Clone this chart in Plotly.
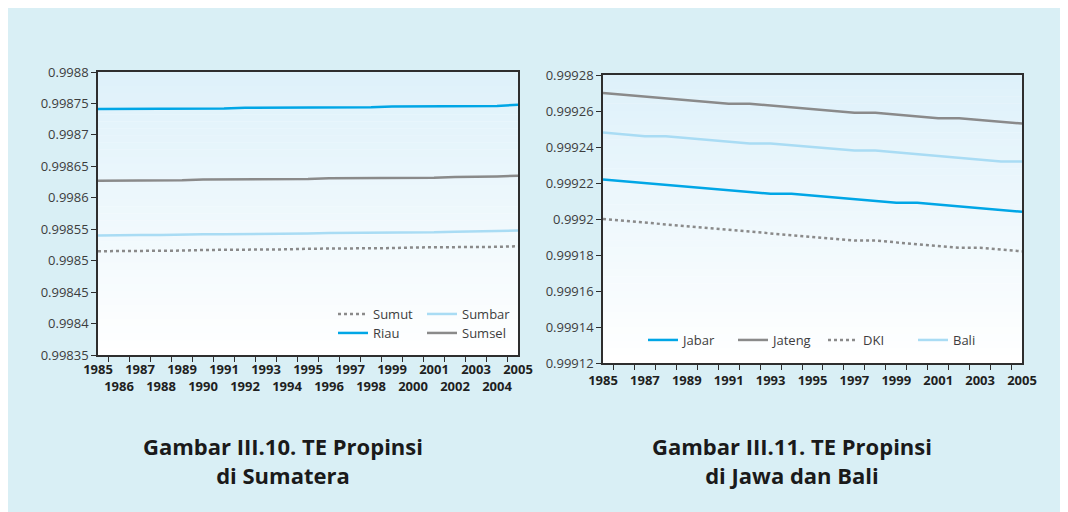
import plotly.graph_objects as go

years = [str(y) for y in range(1985, 2006)]

# Sumatera (left chart)
sumut = [0.998515, 0.998515, 0.998516, 0.998516, 0.998516, 0.998517, 0.998517, 0.998517, 0.998518, 0.998518,
         0.998519, 0.998519, 0.998519, 0.998520, 0.998520, 0.998521, 0.998521, 0.998521, 0.998522, 0.998522, 0.998523]
sumbar = [0.998540, 0.998541, 0.998541, 0.998541, 0.998542, 0.998542, 0.998542, 0.998542, 0.998543, 0.998543,
          0.998543, 0.998544, 0.998544, 0.998544, 0.998545, 0.998545, 0.998545, 0.998546, 0.998546, 0.998547, 0.998548]
riau = [0.998741, 0.998741, 0.998741, 0.998742, 0.998742, 0.998742, 0.998742, 0.998743, 0.998743, 0.998743,
        0.998743, 0.998744, 0.998744, 0.998744, 0.998745, 0.998745, 0.998745, 0.998746, 0.998746, 0.998746, 0.998748]
sumsel = [0.998627, 0.998627, 0.998628, 0.998628, 0.998628, 0.998629, 0.998629, 0.998629, 0.998630, 0.998630,
          0.998630, 0.998631, 0.998631, 0.998631, 0.998632, 0.998632, 0.998632, 0.998633, 0.998633, 0.998634, 0.998635]

# Jawa dan Bali (right chart)
jabar = [0.999222, 0.999221, 0.999220, 0.999219, 0.999218, 0.999217, 0.999216, 0.999215, 0.999214, 0.999214,
         0.999213, 0.999212, 0.999211, 0.999210, 0.999209, 0.999209, 0.999208, 0.999207, 0.999206, 0.999205, 0.999204]
jateng = [0.999270, 0.999269, 0.999268, 0.999267, 0.999266, 0.999265, 0.999264, 0.999264, 0.999263, 0.999262,
          0.999261, 0.999260, 0.999259, 0.999259, 0.999258, 0.999257, 0.999256, 0.999256, 0.999255, 0.999254, 0.999253]
dki = [0.999200, 0.999199, 0.999198, 0.999197, 0.999196, 0.999195, 0.999194, 0.999193, 0.999192, 0.999191,
       0.999190, 0.999189, 0.999188, 0.999188, 0.999187, 0.999186, 0.999185, 0.999184, 0.999184, 0.999183, 0.999182]
bali = [0.999248, 0.999247, 0.999246, 0.999246, 0.999245, 0.999244, 0.999243, 0.999242, 0.999242, 0.999241,
        0.999240, 0.999239, 0.999238, 0.999238, 0.999237, 0.999236, 0.999235, 0.999234, 0.999233, 0.999232, 0.999232]

left_yticks = [0.99835, 0.9984, 0.99845, 0.9985, 0.99855, 0.9986, 0.99865, 0.9987, 0.99875, 0.9988]
left_ylabels = ["0.99835", "0.9984", "0.99845", "0.9985", "0.99855", "0.9986", "0.99865", "0.9987", "0.99875", "0.9988"]
right_yticks = [0.99912, 0.99914, 0.99916, 0.99918, 0.9992, 0.99922, 0.99924, 0.99926, 0.99928]
right_ylabels = ["0.99912", "0.99914", "0.99916", "0.99918", "0.9992", "0.99922", "0.99924", "0.99926", "0.99928"]

left_xlabels = [y if i % 2 == 0 else "<br>" + y for i, y in enumerate(years)]
right_xlabels = [y if i % 2 == 0 else "" for i, y in enumerate(years)]

title_left = "Gambar III.10. TE Propinsi<br>di Sumatera"
title_right = "Gambar III.11. TE Propinsi<br>di Jawa dan Bali"

BLUE = "#00a6e6"
GRAY = "#8a8a8a"
LBLUE = "#a9dcf4"
PANEL = "#d9eff5"

# the page body adds an 8px offset; the figure fills the rest of the window
OFF = 8
W, H = 1055, 504

fig = go.Figure()

def add(x, y, name, color, dash, xa, ya, legend):
    fig.add_trace(go.Scatter(x=x, y=y, name=name, mode="lines",
                             line=dict(color=color, width=2.5, dash=dash),
                             xaxis=xa, yaxis=ya, legend=legend))

add(years, sumut, "Sumut", GRAY, "dot", "x", "y", "legend")
add(years, sumbar, "Sumbar", LBLUE, "solid", "x", "y", "legend")
add(years, riau, "Riau", BLUE, "solid", "x", "y", "legend2")
add(years, sumsel, "Sumsel", GRAY, "solid", "x", "y", "legend2")

add(years, jabar, "Jabar", BLUE, "solid", "x2", "y2", "legend3")
add(years, jateng, "Jateng", GRAY, "solid", "x2", "y2", "legend3")
add(years, dki, "DKI", GRAY, "dot", "x2", "y2", "legend3")
add(years, bali, "Bali", LBLUE, "solid", "x2", "y2", "legend3")

def px_x(p):
    return (p - OFF) / W

def px_y(p):
    return (H - (p - OFF)) / H

axis_common = dict(showline=True, linecolor="#2e2e2e", linewidth=1.5, mirror=True,
                   ticks="outside", ticklen=5, tickcolor="#2e2e2e", tickwidth=1.2,
                   showgrid=False, zeroline=False, automargin=False)

xfont = dict(family="Open Sans", size=13, color="#1f1f1f", weight="bold")
yfont = dict(family="Open Sans", size=13, color="#3d3d3d")
lfont = dict(family="Open Sans", size=13, color="#3d3d3d")

fig.update_layout(
    width=W, height=H,
    margin=dict(l=0, r=0, t=0, b=0, autoexpand=False),
    paper_bgcolor=PANEL,
    plot_bgcolor="white",
    xaxis=dict(domain=[px_x(98), px_x(518)], anchor="y", type="category",
               tickson="boundaries", tickmode="array", tickvals=years, ticktext=left_xlabels,
               tickfont=xfont, tickangle=0, ticklabelstandoff=2, **axis_common),
    yaxis=dict(domain=[px_y(355), px_y(72)], anchor="x", range=[0.99835, 0.9988],
               tickmode="array", tickvals=left_yticks, ticktext=left_ylabels,
               tickfont=yfont, **axis_common),
    xaxis2=dict(domain=[px_x(603), px_x(1022)], anchor="y2", type="category",
                tickson="boundaries", tickmode="array", tickvals=years, ticktext=right_xlabels,
                tickfont=xfont, tickangle=0, ticklabelstandoff=5, **axis_common),
    yaxis2=dict(domain=[px_y(363), px_y(75)], anchor="x2", range=[0.99912, 0.99928],
                tickmode="array", tickvals=right_yticks, ticktext=right_ylabels,
                tickfont=yfont, **axis_common),
    legend=dict(orientation="h", x=px_x(333), y=px_y(314), xanchor="left", yanchor="middle",
                bgcolor="rgba(0,0,0,0)", font=lfont,
                entrywidth=44, entrywidthmode="pixels", traceorder="normal"),
    legend2=dict(orientation="h", x=px_x(333), y=px_y(333), xanchor="left", yanchor="middle",
                 bgcolor="rgba(0,0,0,0)", font=lfont,
                 entrywidth=44, entrywidthmode="pixels", traceorder="normal"),
    legend3=dict(orientation="h", x=px_x(643), y=px_y(340), xanchor="left", yanchor="middle",
                 bgcolor="rgba(0,0,0,0)", font=lfont,
                 entrywidth=45, entrywidthmode="pixels", traceorder="normal"),
)

shapes = []
# gradient plot backgrounds
top = (222, 241, 250)
n = 40
for xr, yr in (("x domain", "y domain"), ("x2 domain", "y2 domain")):
    for i in range(n):
        t = i / (n - 1)
        c = tuple(int(round(top[k] + (255 - top[k]) * t)) for k in range(3))
        shapes.append(dict(type="rect", xref=xr, yref=yr, x0=0, x1=1,
                           y0=1 - (i + 1) / n, y1=1 - i / n + 0.001,
                           fillcolor="rgb(%d,%d,%d)" % c, line=dict(width=0), layer="below"))
fig.update_layout(shapes=shapes)

tfont = dict(family="Open Sans", size=22, color="#1a1a1a", weight="bold")
fig.add_annotation(text=title_left, xref="paper", yref="paper", x=px_x(283), y=px_y(460),
                   xanchor="center", yanchor="middle", showarrow=False, font=tfont, align="center")
fig.add_annotation(text=title_right, xref="paper", yref="paper", x=px_x(792), y=px_y(460),
                   xanchor="center", yanchor="middle", showarrow=False, font=tfont, align="center")

fig.write_html("out.html")
